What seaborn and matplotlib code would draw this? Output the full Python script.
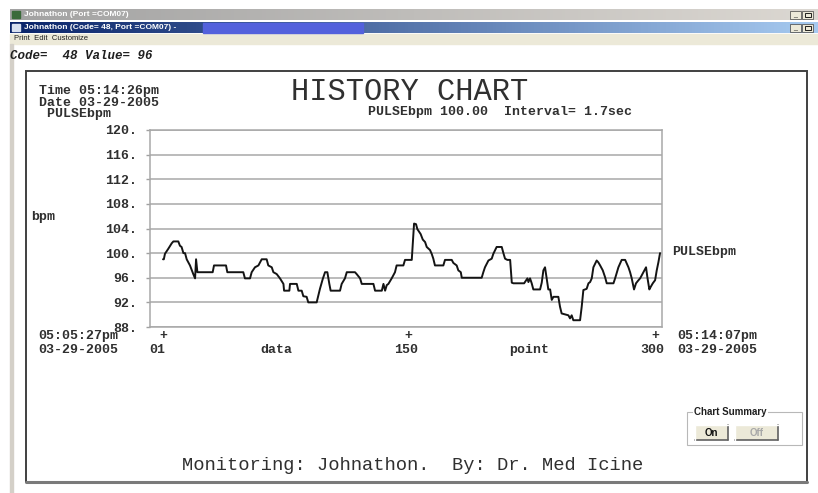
import numpy as np
import pandas as pd
import matplotlib
matplotlib.use("Agg")
import matplotlib.pyplot as plt
import seaborn as sns
from matplotlib.patches import Rectangle

# pulse trace: sample number and bpm at each vertex
point_idx = [1, 1.5, 2.2, 4.2, 6.3, 7.3, 10.3, 11.3, 12.3, 13.4,
             14.4, 15.4, 17.4, 19.4, 20.5, 21.1, 21.9, 31.2, 32.0, 39.3,
             40.1, 49.8, 50.8, 53.9, 54.9, 56.9, 59.0, 61.0, 64.0, 65.0,
             67.1, 68.1, 70.1, 72.1, 74.2, 74.6, 77.8, 78.2, 82.3, 83.3,
             85.3, 86.3, 88.3, 89.3, 94.4, 95.4, 96.4, 98.1, 99.5, 100.9,
             102.1, 102.9, 108.6, 109.6, 111.6, 112.7, 117.7, 118.7, 120.8, 121.8,
             128.9, 129.9, 134.0, 135.0, 136.0, 137.0, 138.0, 140.0, 142.0, 143.0,
             145.1, 147.1, 148.1, 152.2, 153.2, 153.6, 154.8, 155.6, 156.8, 157.6,
             158.9, 160.3, 161.3, 163.3, 164.3, 165.3, 166.3, 171.4, 172.4, 176.5,
             177.5, 179.5, 180.5, 182.0, 182.6, 194.7, 195.7, 196.7, 198.8, 200.8,
             201.8, 203.8, 206.9, 207.9, 208.9, 210.3, 212.0, 213.0, 214.0, 220.5,
             221.7, 222.5, 223.1, 224.1, 225.1, 226.1, 230.2, 231.2, 232.2, 233.2,
             234.2, 235.2, 236.3, 237.3, 238.3, 241.3, 242.3, 243.3, 247.4, 248.4,
             249.4, 250.4, 254.5, 255.5, 256.5, 258.5, 259.6, 260.6, 261.6, 262.6,
             264.6, 265.6, 266.7, 268.3, 269.7, 270.7, 274.8, 275.8, 277.8, 279.8,
             281.9, 283.9, 284.9, 285.9, 287.3, 288.5, 290.0, 291.0, 292.0, 293.0,
             294.6, 295.4, 296.6, 297.4, 298.7, 300.1, 301.1, 302.1, 303.1]
pulse_bpm = [99.0, 99.0, 99.9, 100.7, 101.6, 101.9, 101.9, 101.2, 101.0, 100.0,
             100.0, 99.0, 98.0, 96.6, 95.9, 99.0, 96.9, 96.9, 98.0, 98.0,
             96.9, 96.9, 95.9, 95.9, 96.9, 97.7, 98.0, 99.0, 99.0, 98.0,
             97.7, 96.9, 96.6, 95.9, 95.0, 93.9, 93.9, 95.0, 95.0, 93.9,
             93.9, 93.0, 92.9, 92.0, 92.0, 93.1, 94.2, 95.8, 96.9, 96.9,
             95.0, 93.9, 93.9, 95.0, 95.9, 96.9, 96.9, 96.6, 95.9, 95.0,
             95.0, 93.9, 93.9, 95.0, 93.9, 94.8, 95.0, 95.9, 96.9, 98.0,
             98.0, 98.0, 98.9, 98.9, 103.1, 104.8, 104.7, 103.9, 103.4, 103.1,
             102.2, 101.8, 101.0, 100.5, 99.9, 99.1, 98.0, 98.0, 98.9, 98.9,
             98.4, 98.0, 97.2, 96.9, 96.0, 96.0, 96.9, 97.7, 98.8, 99.1,
             99.9, 101.0, 101.0, 100.0, 99.1, 98.9, 98.9, 95.2, 95.1, 95.1,
             95.6, 95.9, 95.3, 95.9, 95.1, 94.1, 94.1, 95.2, 97.2, 97.7,
             95.9, 94.1, 94.1, 92.4, 92.9, 92.9, 91.3, 90.2, 89.9, 89.4,
             89.9, 89.1, 89.1, 91.3, 94.0, 94.2, 95.1, 95.3, 95.9, 97.7,
             98.8, 98.5, 98.0, 97.2, 96.1, 95.1, 95.1, 95.9, 97.7, 98.9,
             98.9, 97.7, 96.9, 95.9, 94.1, 95.1, 95.6, 95.9, 96.4, 96.9,
             97.7, 96.1, 94.1, 94.5, 95.1, 95.6, 97.2, 98.5, 100.0]

y_ticks = [88, 92, 96, 100, 104, 108, 112, 116, 120]
x_marks = [1, 150, 300]
x_mark_labels = ["01", "150", "300"]

W, H = 818, 493
MONO = ["Liberation Mono", "DejaVu Sans Mono"]
SANS = ["Liberation Sans", "DejaVu Sans"]

sns.set_theme(style="white")
plt.rcParams["font.family"] = MONO

fig = plt.figure(figsize=(W / 100, H / 100), dpi=100)
fig.patch.set_facecolor("white")

# full-figure layer in pixel coordinates for the window chrome
bg = fig.add_axes([0, 0, 1, 1], zorder=0)
bg.set_xlim(0, W)
bg.set_ylim(H, 0)
bg.axis("off")


def gradient(x0, x1, y0, y1, c0, c1):
    c0 = np.array(matplotlib.colors.to_rgb(c0))
    c1 = np.array(matplotlib.colors.to_rgb(c1))
    t = np.linspace(0, 1, 256)[:, None]
    img = (c0 + (c1 - c0) * t)[None, :, :]
    bg.imshow(img, extent=(x0, x1, y1, y0), aspect="auto", zorder=1)


# title bars
gradient(10, W, 9, 20, "#a2a2a2", "#dcd8d2")
gradient(10, W, 22, 33, "#0a246a", "#a6caf0")
bg.add_patch(Rectangle((203, 22.5), 160, 10, color="#5361dc", zorder=2))
bg.add_patch(Rectangle((12, 11), 8, 7, color="#3a6a3a", zorder=2))
bg.add_patch(Rectangle((12, 24), 8, 7, color="#d8e0f0", zorder=2))
bg.text(24, 14.5, "Johnathon (Port =COM07)", color="white", fontsize=6,
        fontweight="bold", family=SANS, va="center", zorder=3)
bg.text(24, 27.5, "Johnathon (Code= 48, Port =COM07) -", color="white", fontsize=6,
        fontweight="bold", family=SANS, va="center", zorder=3)
for yb in (10.5, 23.5):
    for xb in (790, 802):
        bg.add_patch(Rectangle((xb, yb), 11, 8.5, facecolor="#ece9d8",
                               edgecolor="#404040", lw=0.5, zorder=3))
bg.text(795.5, 14.5, "_", fontsize=5, ha="center", va="center", family=SANS, zorder=4)
bg.text(795.5, 27.5, "_", fontsize=5, ha="center", va="center", family=SANS, zorder=4)
bg.add_patch(Rectangle((804.5, 12.5), 6, 4.5, fill=False, edgecolor="black", lw=0.6, zorder=4))
bg.add_patch(Rectangle((804.5, 25.5), 6, 4.5, fill=False, edgecolor="black", lw=0.6, zorder=4))

# menu strip and status line
bg.add_patch(Rectangle((10, 34), W - 10, 10, color="#ece9d8", zorder=1))
bg.text(14, 39, "Print  Edit  Customize", fontsize=5.5, family=SANS,
        va="center", color="#202020", zorder=3)
bg.text(10, 56, "Code=  48 Value= 96", fontsize=9, fontweight="bold",
        fontstyle="italic", va="center", color="#202020", zorder=3)
bg.add_patch(Rectangle((10, 44), 3, H - 44, color="#d4d0c8", zorder=1))

# chart panel frame
bg.add_patch(Rectangle((26, 71), 781, 411, facecolor="white",
                       edgecolor="#404040", lw=1.4, zorder=1))
bg.plot([26, 807], [482, 482], color="#7a7a7a", lw=2.2, zorder=2)

# panel texts
txt = dict(fontweight="bold", fontsize=9.5, va="center", color="#303030", zorder=3)
bg.text(39, 102.5, "Time 05:14:26pm\nDate 03-29-2005\n PULSEbpm",
        linespacing=0.98, **txt)
bg.text(410, 92, "HISTORY CHART", fontsize=22, ha="center", va="center",
        color="#303030", zorder=3)
bg.text(368, 112, "PULSEbpm 100.00  Interval= 1.7sec", **txt)
bg.text(31, 217, "bpm", **txt)
bg.text(672, 252, "PULSEbpm", **txt)
bg.text(38, 336, "05:05:27pm", **txt)
bg.text(38, 350, "03-29-2005", **txt)
bg.text(677, 336, "05:14:07pm", **txt)
bg.text(677, 350, "03-29-2005", **txt)
bg.text(276, 350, "data", ha="center", **txt)
bg.text(529, 350, "point", ha="center", **txt)
bg.text(413, 465, "Monitoring: Johnathon.  By: Dr. Med Icine", fontsize=13.5,
        ha="center", va="center", color="#303030", zorder=3)

# chart summary group box
bg.add_patch(Rectangle((687, 412), 115, 33, fill=False, edgecolor="#b8b8b8",
                       lw=0.8, zorder=2))
bg.text(694, 412, "Chart Summary", fontsize=7, fontweight="bold", family=SANS,
        va="center", color="#202020", zorder=3,
        bbox=dict(facecolor="white", edgecolor="none", pad=0.8))
for (x0, x1), label, col in [((695, 728), "On", "#101010"), ((735, 778), "Off", "#a8a8a8")]:
    bg.add_patch(Rectangle((x0, 425), x1 - x0, 15, facecolor="#ece9d8",
                           edgecolor="none", zorder=2))
    bg.plot([x0, x1], [440, 440], color="#606060", lw=1.2, zorder=3)
    bg.plot([x1, x1], [425, 440], color="#606060", lw=1.2, zorder=3)
    bg.plot([x0, x1], [425, 425], color="white", lw=1, zorder=3)
    bg.plot([x0, x0], [425, 440], color="white", lw=1, zorder=3)
    bg.text((x0 + x1) / 2, 432.5, label, fontsize=7, fontweight="bold", family=SANS,
            ha="center", va="center", color=col, zorder=4)

bg.set_xlim(0, W)
bg.set_ylim(H, 0)

# the chart itself
L, T, R, B = 150, 130, 662, 327
ax = fig.add_axes([L / W, 1 - B / H, (R - L) / W, (B - T) / H], zorder=2)
df = pd.DataFrame({"point": point_idx, "bpm": pulse_bpm})
sns.lineplot(data=df, x="point", y="bpm", ax=ax, color="#141414", lw=1.4,
             sort=False, estimator=None)
ax.set_xlim(-6.9, 304.3)
ax.set_ylim(88, 120)
ax.set_yticks(y_ticks)
ax.set_yticklabels([f"{v}." for v in y_ticks])
ax.set_xticks([])
ax.set_xlabel("")
ax.set_ylabel("")
ax.yaxis.grid(True, color="#a8a8a8", lw=1.1)
ax.set_axisbelow(True)
ax.tick_params(axis="y", left=True, length=3, width=1, color="#a0a0a0",
               pad=6, labelsize=9.5)
for lab in ax.get_yticklabels():
    lab.set_fontweight("bold")
    lab.set_color("#303030")
for s in ax.spines.values():
    s.set_color("#a8a8a8")
    s.set_linewidth(1.1)

tr = ax.get_xaxis_transform()
y_plus = (B - 336) / (B - T)
y_lab = (B - 350) / (B - T)
for xm, lab, ha in zip(x_marks, x_mark_labels, ["right", "center", "center"]):
    ax.text(xm, y_plus, "+", transform=tr, ha="center", va="center",
            fontsize=9.5, fontweight="bold", color="#303030", clip_on=False)
    ax.text(xm + (1.5 if ha == "right" else -1.5), y_lab, lab, transform=tr, ha=ha,
            va="center", fontsize=9.5, fontweight="bold", color="#303030", clip_on=False)

fig.savefig("out.png", dpi=100)
